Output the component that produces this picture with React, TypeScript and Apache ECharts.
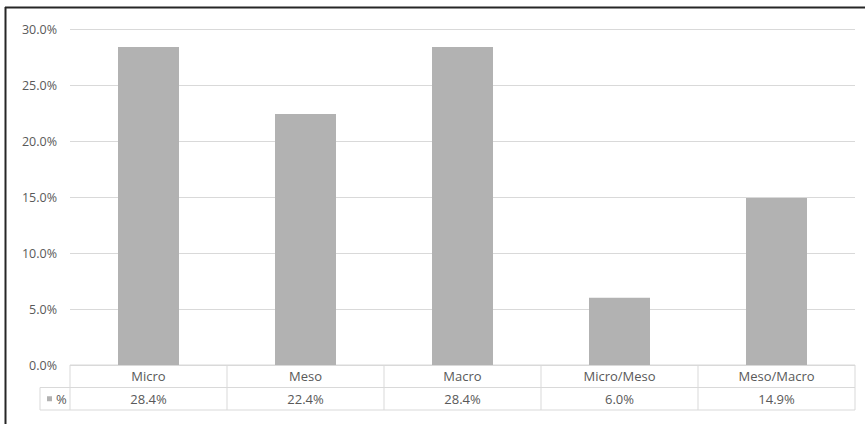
import React, { useEffect, useRef } from "react";
import * as echarts from "echarts";

const categories = ["Micro", "Meso", "Macro", "Micro/Meso", "Meso/Macro"];
const values = [28.4, 22.4, 28.4, 6.0, 14.9];
const seriesName = "%";
const yMax = 30;
const yInterval = 5;

const FONT = "'Open Sans', 'Noto Sans', sans-serif";
const TEXT_COLOR = "#595959";
const LINE_COLOR = "#d9d9d9";
const BAR_COLOR = "#b2b2b2";

export default function App() {
  const ref = useRef<HTMLDivElement>(null);
  useEffect(() => {
    if (!ref.current) return;
    const chart = echarts.init(ref.current, undefined, { renderer: "svg" });
    const option: any = {
      animation: false,
      backgroundColor: "#ffffff",
      grid: { left: 70, right: 10, top: 29, bottom: 59, containLabel: false },
      xAxis: {
        type: "category",
        data: categories,
        axisLine: { show: false },
        axisTick: { show: false },
        axisLabel: { show: false },
      },
      yAxis: {
        type: "value",
        min: 0,
        max: yMax,
        interval: yInterval,
        axisLine: { show: false },
        axisTick: { show: false },
        splitLine: { lineStyle: { color: LINE_COLOR, width: 1 } },
        axisLabel: {
          formatter: (v: number) => v.toFixed(1) + "%",
          color: TEXT_COLOR,
          fontFamily: FONT,
          fontSize: 12.5,
          margin: 13,
        },
      },
      series: [
        {
          type: "bar",
          name: seriesName,
          data: values,
          barWidth: 61,
          itemStyle: { color: BAR_COLOR },
        },
      ],
    };
    chart.setOption(option);

    // Build data table beneath the plot using the chart's own scales
    const y0 = chart.convertToPixel({ yAxisIndex: 0 }, 0) as number;
    const n = categories.length;
    const c0 = chart.convertToPixel({ xAxisIndex: 0 }, 0) as number;
    const c1 = chart.convertToPixel({ xAxisIndex: 0 }, 1) as number;
    const step = c1 - c0;
    const left = c0 - step / 2;
    const right = left + step * n;
    const rowH = 22.5;
    const r1 = y0 + rowH;
    const r2 = y0 + rowH * 2;
    const legendLeft = left - 30;
    const ls = { stroke: LINE_COLOR, lineWidth: 1 };
    const els: any[] = [];
    els.push({ type: "line", shape: { x1: left, y1: y0, x2: right, y2: y0 }, style: ls, silent: true });
    els.push({ type: "line", shape: { x1: legendLeft, y1: r1, x2: right, y2: r1 }, style: ls, silent: true });
    els.push({ type: "line", shape: { x1: legendLeft, y1: r2, x2: right, y2: r2 }, style: ls, silent: true });
    els.push({ type: "line", shape: { x1: legendLeft, y1: r1, x2: legendLeft, y2: r2 }, style: ls, silent: true });
    for (let i = 0; i <= n; i++) {
      const x = left + step * i;
      els.push({ type: "line", shape: { x1: x, y1: y0, x2: x, y2: r2 }, style: ls, silent: true });
    }
    categories.forEach((c, i) => {
      const cx = chart.convertToPixel({ xAxisIndex: 0 }, i) as number;
      els.push({
        type: "text",
        x: cx,
        y: (y0 + r1) / 2,
        style: { text: c, fill: TEXT_COLOR, font: `13px ${FONT}`, textAlign: "center", textVerticalAlign: "middle" },
        silent: true,
      });
      els.push({
        type: "text",
        x: cx,
        y: (r1 + r2) / 2,
        style: { text: values[i].toFixed(1) + "%", fill: TEXT_COLOR, font: `13px ${FONT}`, textAlign: "center", textVerticalAlign: "middle" },
        silent: true,
      });
    });
    // legend key
    els.push({ type: "rect", shape: { x: legendLeft + 7, y: (r1 + r2) / 2 - 2.5, width: 5, height: 5 }, style: { fill: BAR_COLOR }, silent: true });
    els.push({
      type: "text",
      x: legendLeft + 16,
      y: (r1 + r2) / 2,
      style: { text: seriesName, fill: TEXT_COLOR, font: `13px ${FONT}`, textAlign: "left", textVerticalAlign: "middle" },
      silent: true,
    });
    // outer frame (top and left)
    els.push({ type: "line", shape: { x1: 5, y1: 7.5, x2: 865, y2: 7.5 }, style: { stroke: "#262626", lineWidth: 2 }, silent: true });
    els.push({ type: "line", shape: { x1: 5.5, y1: 7, x2: 5.5, y2: 424 }, style: { stroke: "#262626", lineWidth: 2 }, silent: true });

    chart.setOption({ graphic: { elements: els } });
    return () => chart.dispose();
  }, []);
  return (
    <div
      ref={ref}
      style={{ position: "fixed", left: 0, top: 0, width: 865, height: 424 }}
    />
  );
}
